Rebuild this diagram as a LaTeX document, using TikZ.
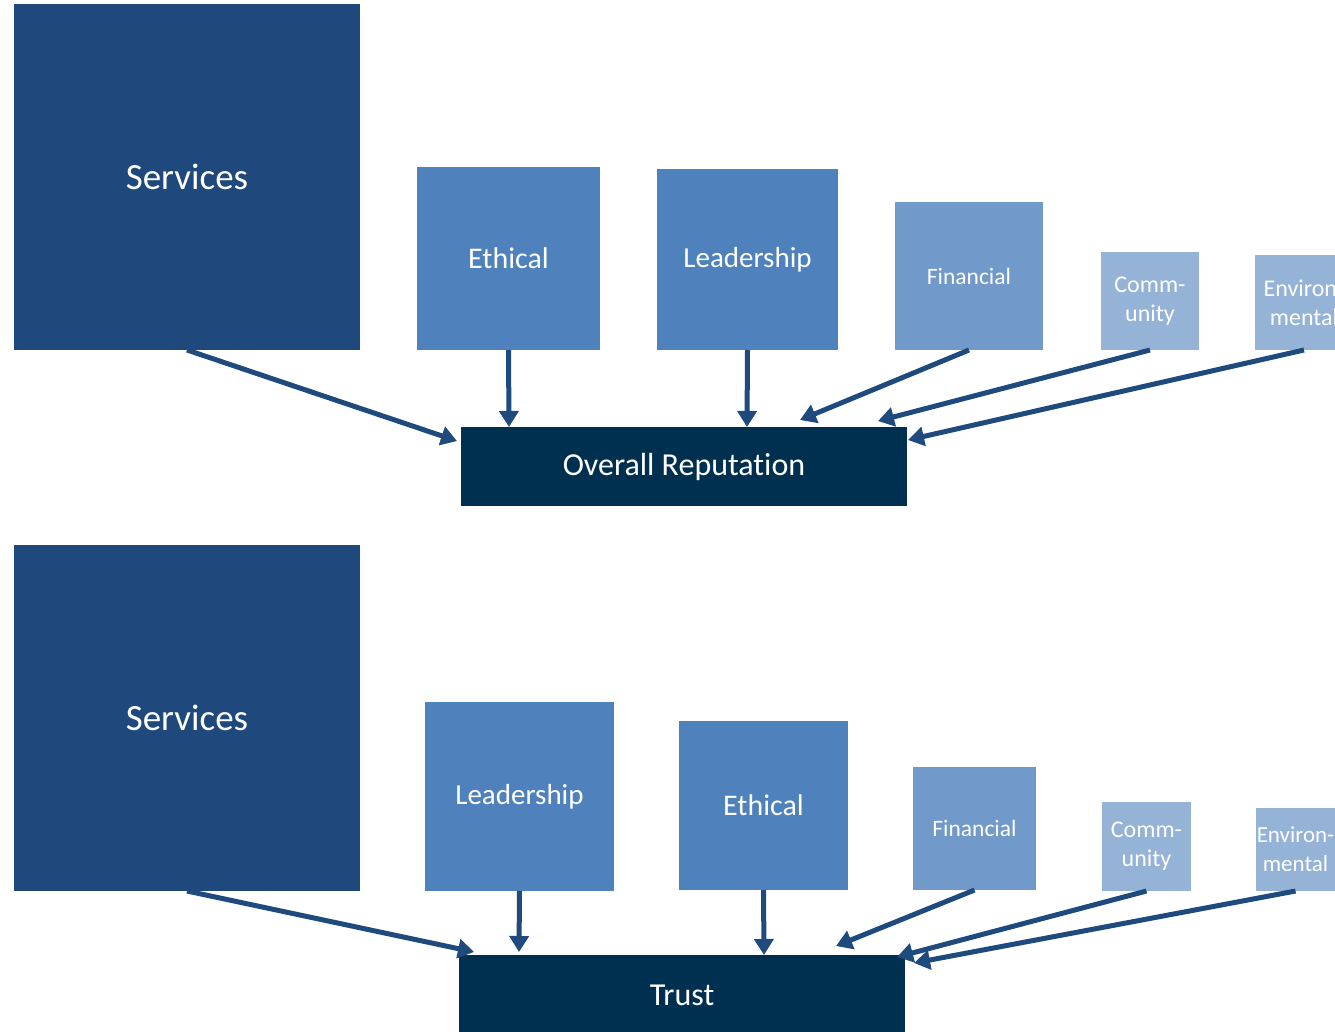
\documentclass[tikz,border=0pt]{standalone}
\usepackage{fontspec}
\setmainfont[Ligatures=NoCommon]{Carlito}
\usetikzlibrary{arrows.meta}
\definecolor{svcblue}{HTML}{1F497D}
\definecolor{midblue}{HTML}{4F81BD}
\definecolor{softblue}{HTML}{7199CA}
\definecolor{paleblue}{HTML}{95B3D7}
\definecolor{navy}{HTML}{003050}
\definecolor{arrowblue}{HTML}{1F4A7E}
\begin{document}
\begin{tikzpicture}[x=1pt,y=-1pt,
  box/.style={anchor=north west,inner sep=0pt,outer sep=0pt,align=center,text=white},
  svc/.style={box,fill=svcblue,minimum width=346pt,minimum height=346pt,font=\fontsize{37}{42}\selectfont},
  big/.style={box,fill=midblue,font=\fontsize{29}{34}\selectfont},
  fin/.style={box,fill=softblue,font=\fontsize{23.5}{28}\selectfont},
  small/.style={box,fill=paleblue,font=\fontsize{24}{29}\selectfont},
  outcome/.style={box,fill=navy,font=\fontsize{32}{36}\selectfont},
  arr/.style={draw=arrowblue,line width=5pt,-{Triangle[width=19pt,length=16pt]}}]
\useasboundingbox (0,0) rectangle (1335,1032);
\clip (0,0) rectangle (1335,1032);

% ---- upper panel: overall reputation ----
\node[svc] (svcA) at (14,4) {Services};
\node[big,minimum width=183pt,minimum height=183pt,font=\fontsize{30}{34}\selectfont] (ethA) at (417,167) {Ethical};
\node[big,minimum width=181pt,minimum height=181pt] (leadA) at (657,169) {Leadership};
\node[fin,minimum width=148pt,minimum height=148pt] (finA) at (895,202) {Financial};
\node[small,minimum width=98pt,minimum height=98pt] (comA) at (1101,252) {Comm-\\unity};
\node[small,minimum width=98pt,minimum height=95pt] (envA) at (1255,255) {Environ-\\mental};
\node[outcome,minimum width=446pt,minimum height=79pt] (rep) at (461,427) {Overall Reputation};

\draw[arr] (svcA.south) -- ([shift={(-4,14)}]rep.north west);
\draw[arr] (ethA.south) -- ([shift={(48,0)}]rep.north west);
\draw[arr] (leadA.south) -- ([shift={(286,0)}]rep.north west);
\draw[arr] (finA.south) -- ([shift={(339,-7)}]rep.north west);
\draw[arr] (comA.south) -- ([shift={(417,-6)}]rep.north west);
\draw[arr] (envA.south) -- ([shift={(1,13)}]rep.north east);

% ---- lower panel: trust ----
\node[svc] (svcB) at (14,545) {Services};
\node[big,minimum width=189pt,minimum height=189pt] (leadB) at (425,702) {Leadership};
\node[big,minimum width=169pt,minimum height=169pt,font=\fontsize{30}{34}\selectfont] (ethB) at (679,721) {Ethical};
\node[fin,minimum width=123pt,minimum height=123pt] (finB) at (913,767) {Financial};
\node[small,minimum width=89pt,minimum height=89pt] (comB) at (1102,802) {Comm-\\unity};
\node[small,minimum width=79pt,minimum height=83pt,font=\fontsize{23}{29}\selectfont] (envB) at (1256,808) {Environ-\\mental};
\node[outcome,minimum width=446pt,minimum height=80pt] (trust) at (459,955) {Trust};

\draw[arr] (svcB.south) -- ([shift={(15,-3)}]trust.north west);
\draw[arr] (leadB.south) -- ([shift={(60,-3)}]trust.north west);
\draw[arr] (ethB.south) -- ([shift={(305,0)}]trust.north west);
\draw[arr] (finB.south) -- ([shift={(377,-9)}]trust.north west);
\draw[arr] (comB.south) -- ([shift={(438,2)}]trust.north west);
\draw[arr] (envB.south) -- ([shift={(9,8)}]trust.north east);
\end{tikzpicture}
\end{document}
